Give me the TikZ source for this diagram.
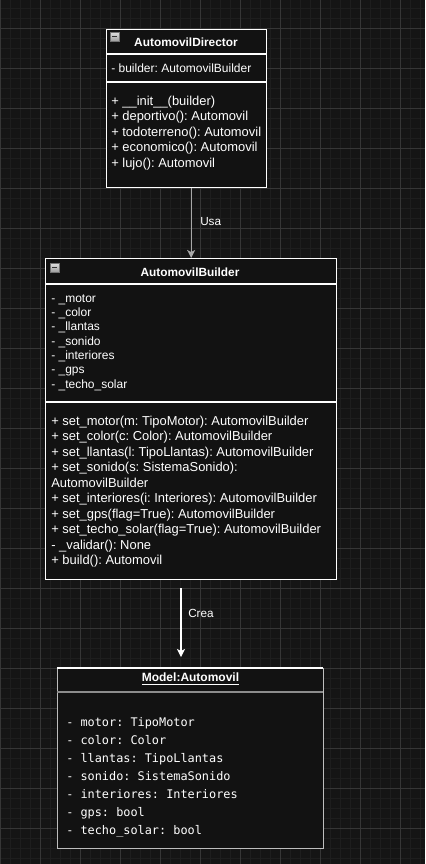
\documentclass[tikz,border=0pt]{standalone}
\usepackage{fontspec}
\setmainfont{Liberation Sans}
\newfontfamily\codefont{DejaVu Sans Mono}
\usetikzlibrary{arrows.meta}
\frenchspacing

\definecolor{canvas}{HTML}{151515}
\definecolor{gridminor}{HTML}{1E1E1E}
\definecolor{gridmajor}{HTML}{363636}
\definecolor{boxfill}{HTML}{121212}
\definecolor{modelline}{HTML}{BDBDBD}
\definecolor{usaline}{HTML}{A8A8A8}

\tikzset{
  classbox/.style={draw=white, line width=1pt, fill=boxfill, inner sep=0pt, anchor=north west},
  classtitle/.style={text=white, inner sep=0pt, font=\bfseries\fontsize{8.9}{11}\selectfont},
  member/.style={anchor=west, inner sep=0pt, text=white, text height=8pt, text depth=1.5pt,
    font=\fontsize{9.7}{11}\selectfont},
  attrib/.style={member, font=\fontsize{9}{11}\selectfont},
  field/.style={anchor=west, inner sep=0pt, text=white, text height=7.5pt, text depth=1.5pt,
    font=\codefont\fontsize{8.9}{11}\selectfont},
  linklabel/.style={anchor=west, inner sep=0pt, text=white, font=\fontsize{8.8}{11}\selectfont},
  collapse/.style={top color=white!88!black, bottom color=white!62!black, draw=white!45!black, line width=0.4pt}
}

\begin{document}
\begin{tikzpicture}[x=0.75pt, y=-0.75pt, >={Stealth[length=6pt,width=6pt,inset=1.5pt]}]
  % canvas and grid
  \fill[canvas] (0,0) rectangle (425,864);
  \useasboundingbox (0,0) rectangle (425,864);
  \foreach \gx in {0,10,...,420} \draw[gridminor, line width=0.75pt] (\gx,0) -- (\gx,864);
  \foreach \gy in {8,18,...,858} \draw[gridminor, line width=0.75pt] (0,\gy) -- (425,\gy);
  \foreach \gx in {0,40,...,400} \draw[gridmajor, line width=0.75pt] (\gx,0) -- (\gx,864);
  \foreach \gy in {28,68,...,828} \draw[gridmajor, line width=0.75pt] (0,\gy) -- (425,\gy);

  % AutomovilDirector
  \node[classbox, minimum width=120pt, minimum height=118.5pt] (director) at (106,29) {};
  \draw[white, line width=1pt] (106,54) -- (266,54);
  \draw[white, line width=1pt] (106,82) -- (266,82);
  \shade[collapse] (110,32) rectangle (119,41);
  \draw[black!80, line width=1.2pt] (112,36.5) -- (117,36.5);
  \node[classtitle] (directorTitle) at (186,42) {AutomovilDirector};
  \node[attrib] (dAttr) at (111,68) {- builder: AutomovilBuilder};
  \foreach \txt [count=\i from 0] in {%
      {+ \_\_init\_\_(builder)},
      {+ deportivo(): Automovil},
      {+ todoterreno(): Automovil},
      {+ economico(): Automovil},
      {+ lujo(): Automovil}}
    \node[member] (dOp\i) at (111,{101+15.5*\i}) {\txt};

  % AutomovilBuilder
  \node[classbox, minimum width=218.25pt, minimum height=240.75pt] (builder) at (45,258) {};
  \draw[white, line width=1pt] (45,284) -- (336,284);
  \draw[white, line width=1pt] (45,402) -- (336,402);
  \shade[collapse] (50,263) rectangle (59,272);
  \draw[black!80, line width=1.2pt] (52,267.5) -- (57,267.5);
  \node[classtitle] (builderTitle) at (190,272) {AutomovilBuilder};
  \foreach \txt [count=\i from 0] in {%
      {- \_motor}, {- \_color}, {- \_llantas}, {- \_sonido},
      {- \_interiores}, {- \_gps}, {- \_techo\_solar}}
    \node[attrib] (bAttr\i) at (51,{298+14.33*\i}) {\txt};
  \foreach \txt [count=\i from 0] in {%
      {+ set\_motor(m: TipoMotor): AutomovilBuilder},
      {+ set\_color(c: Color): AutomovilBuilder},
      {+ set\_llantas(l: TipoLlantas): AutomovilBuilder},
      {+ set\_sonido(s: SistemaSonido):},
      {AutomovilBuilder},
      {+ set\_interiores(i: Interiores): AutomovilBuilder},
      {+ set\_gps(flag=True): AutomovilBuilder},
      {+ set\_techo\_solar(flag=True): AutomovilBuilder},
      {- \_validar(): None},
      {+ build(): Automovil}}
    \node[member] (bOp\i) at (51,{421+15.5*\i}) {\txt};

  % Model:Automovil
  \node[classbox, draw=modelline, minimum width=199.5pt, minimum height=135pt] (model) at (57,668) {};
  \draw[white, line width=1pt] (57,668) -- (323,668);
  \draw[white!55!black, line width=1pt] (57,692) -- (323,692);
  \node[classtitle, font=\bfseries\fontsize{9}{11}\selectfont] (modelTitle) at (190.5,679) {\underline{Model:Automovil}};
  \foreach \txt [count=\i from 0] in {%
      {- motor: TipoMotor},
      {- color: Color},
      {- llantas: TipoLlantas},
      {- sonido: SistemaSonido},
      {- interiores: Interiores},
      {- gps: bool},
      {- techo\_solar: bool}}
    \node[field] (mAttr\i) at (66,{722+18*\i}) {\txt};

  % relations
  \draw[usaline, line width=1pt, ->] (builder.north |- director.south) -- (builder.north);
  \node[linklabel] (usa) at (200,222) {Usa};
  \coordinate (creaStart) at (181,588);
  \coordinate (creaEnd) at (181,657);
  \draw[white, line width=1pt, ->] (creaStart) -- (creaEnd);
  \node[linklabel] (crea) at (188,613) {Crea};
\end{tikzpicture}
\end{document}
